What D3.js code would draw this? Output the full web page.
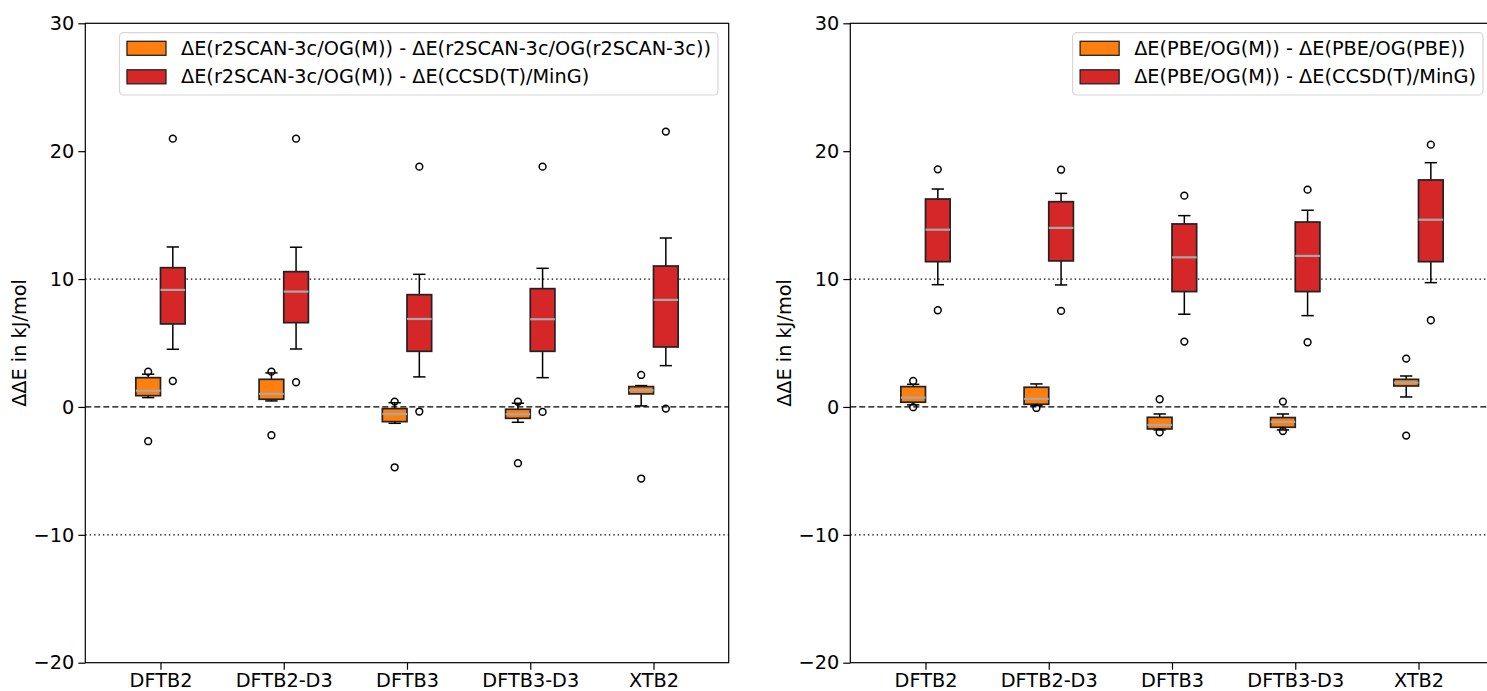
<!DOCTYPE html>
<html>
<head>
<meta charset="utf-8">
<script src="https://cdn.jsdelivr.net/npm/d3@7/dist/d3.min.js"></script>
<style>
  html, body { margin: 0; padding: 0; background: #fff; overflow: hidden; }
  svg { display: block; font-family: "DejaVu Sans", sans-serif; }
</style>
</head>
<body>
<svg id="chart" width="1487" height="691"></svg>
<script>
// Methods on the x axis
const categories = ["DFTB2", "DFTB2-D3", "DFTB3", "DFTB3-D3", "XTB2"];
const yTicks = [-20, -10, 0, 10, 20, 30];

// Box statistics per method: [lower whisker, Q1, median, Q3, upper whisker]
// Left panel: r2SCAN-3c single points
const r2scanVsOwnOpt = [
  [0.73, 0.88, 1.27, 2.29, 2.56],
  [0.47, 0.60, 1.02, 2.16, 2.66],
  [-1.28, -1.15, -0.55, -0.13, 0.33],
  [-1.20, -0.89, -0.57, -0.18, 0.29],
  [0.08, 1.02, 1.30, 1.59, 1.67]
];
const r2scanVsOwnOptFliers = [[2.76, -2.68], [2.76, -2.21], [0.42, -4.72], [0.41, -4.40], [2.50, -5.60]];

const r2scanVsCCSD = [
  [4.51, 6.49, 9.15, 10.89, 12.51],
  [4.53, 6.59, 9.02, 10.58, 12.49],
  [2.35, 4.35, 6.88, 8.78, 10.37],
  [2.29, 4.35, 6.86, 9.25, 10.84],
  [3.23, 4.69, 8.37, 11.02, 13.21]
];
const r2scanVsCCSDFliers = [[20.98, 2.03], [20.98, 1.93], [18.79, -0.36], [18.79, -0.39], [21.53, -0.13]];

// Right panel: PBE single points
const pbeVsOwnOpt = [
  [0.16, 0.37, 0.73, 1.59, 1.77],
  [0.10, 0.21, 0.63, 1.54, 1.80],
  [-1.80, -1.72, -1.41, -0.81, -0.55],
  [-1.80, -1.59, -1.17, -0.83, -0.55],
  [0.78, 1.64, 1.90, 2.16, 2.42]
];
const pbeVsOwnOptFliers = [[2.03, -0.02], [-0.08], [0.60, -1.98], [0.42, -1.88], [3.78, -2.24]];

const pbeVsCCSD = [
  [9.56, 11.36, 13.86, 16.26, 17.04],
  [9.54, 11.42, 14.00, 16.05, 16.70],
  [7.25, 9.02, 11.70, 14.31, 14.96],
  [7.14, 9.02, 11.81, 14.46, 15.38],
  [9.72, 11.36, 14.64, 17.75, 19.10]
];
const pbeVsCCSDFliers = [[18.58, 7.56], [18.55, 7.51], [16.52, 5.11], [16.99, 5.06], [20.51, 6.78]];

const legendLeft = [
  "ΔE(r2SCAN-3c/OG(M)) - ΔE(r2SCAN-3c/OG(r2SCAN-3c))",
  "ΔE(r2SCAN-3c/OG(M)) - ΔE(CCSD(T)/MinG)"
];
const legendRight = [
  "ΔE(PBE/OG(M)) - ΔE(PBE/OG(PBE))",
  "ΔE(PBE/OG(M)) - ΔE(CCSD(T)/MinG)"
];
const yLabel = "ΔΔE in kJ/mol";

const colorOrange = "#ff7f0e";
const colorRed = "#d62728";

const svg = d3.select("#chart");
const FONT = 19.3;
const plotTop = 23.3, plotBottom = 662.7, plotW = 643.4;

const y = d3.scaleLinear().domain([-20, 30]).range([plotBottom, plotTop]);
const x = d3.scaleLinear().domain([0.39, 5.61]).range([0, plotW]);
const offset = 0.1, boxW = 0.2;

function drawPanel(left, series, legendTexts) {
  const g = svg.append("g").attr("transform", `translate(${left},0)`);

  // reference lines
  [[10, "1.4,3"], [-10, "1.4,3"], [0, "6,3"]].forEach(([v, dash]) => {
    g.append("line")
      .attr("x1", 0).attr("x2", plotW)
      .attr("y1", y(v)).attr("y2", y(v))
      .attr("stroke", "#000").attr("stroke-width", 1.3)
      .attr("stroke-dasharray", dash);
  });

  series.forEach(s => {
    s.stats.forEach((st, i) => {
      const cx = x(i + 1 + s.shift);
      const hw = (x(boxW) - x(0)) / 2;
      const [lo, q1, med, q3, hi] = st;
      const bg = g.append("g");
      // whiskers
      bg.append("line").attr("x1", cx).attr("x2", cx).attr("y1", y(q1)).attr("y2", y(lo))
        .attr("stroke", "#000").attr("stroke-width", 1.5);
      bg.append("line").attr("x1", cx).attr("x2", cx).attr("y1", y(q3)).attr("y2", y(hi))
        .attr("stroke", "#000").attr("stroke-width", 1.5);
      // caps
      [lo, hi].forEach(v => {
        bg.append("line").attr("x1", cx - hw / 2).attr("x2", cx + hw / 2)
          .attr("y1", y(v)).attr("y2", y(v))
          .attr("stroke", "#000").attr("stroke-width", 1.5);
      });
      // box
      bg.append("rect")
        .attr("x", cx - hw).attr("width", 2 * hw)
        .attr("y", y(q3)).attr("height", y(q1) - y(q3))
        .attr("fill", s.color).attr("stroke", "#222").attr("stroke-width", 1.7);
      // median
      bg.append("line").attr("x1", cx - hw).attr("x2", cx + hw)
        .attr("y1", y(med)).attr("y2", y(med))
        .attr("stroke", "#a8a8a8").attr("stroke-width", 2.2);
      // outliers
      s.fliers[i].forEach(v => {
        bg.append("circle").attr("cx", cx).attr("cy", y(v)).attr("r", 3.4)
          .attr("fill", "none").attr("stroke", "#000").attr("stroke-width", 1.5);
      });
    });
  });

  // y axis
  const yAxis = g.append("g").call(d3.axisLeft(y).tickValues(yTicks).tickSize(7).tickPadding(4)
    .tickFormat(d => d < 0 ? "\u2212" + Math.abs(d) : String(d)));
  yAxis.select(".domain").remove();
  yAxis.selectAll("line").attr("stroke", "#000").attr("stroke-width", 1.2);
  yAxis.selectAll("text").attr("font-size", FONT).attr("fill", "#000")
    .attr("font-family", "DejaVu Sans, sans-serif");

  // x axis
  const xAxis = g.append("g").attr("transform", `translate(0,${plotBottom})`)
    .call(d3.axisBottom(x).tickValues(categories.map((c, i) => i + 1)).tickSize(7).tickPadding(4)
      .tickFormat((d, i) => categories[i]));
  xAxis.select(".domain").remove();
  xAxis.selectAll("line").attr("stroke", "#000").attr("stroke-width", 1.2);
  xAxis.selectAll("text").attr("font-size", FONT).attr("fill", "#000")
    .attr("font-family", "DejaVu Sans, sans-serif");

  // frame
  g.append("rect").attr("x", 0).attr("y", plotTop).attr("width", plotW).attr("height", plotBottom - plotTop)
    .attr("fill", "none").attr("stroke", "#000").attr("stroke-width", 1.2);

  // y label
  g.append("text")
    .attr("transform", `translate(${-65},${(plotTop + plotBottom) / 2}) rotate(-90)`)
    .attr("text-anchor", "middle").attr("dominant-baseline", "middle")
    .attr("font-size", FONT).text(yLabel);

  // legend
  const lg = g.append("g");
  const frame = lg.append("rect").attr("rx", 4).attr("ry", 4)
    .attr("fill", "#fff").attr("fill-opacity", 0.8)
    .attr("stroke", "#d6d6d6").attr("stroke-width", 1.2);
  const texts = [];
  legendTexts.forEach((t, i) => {
    const rowY = 48.3 + i * 28.5;
    lg.append("rect").attr("x", 7.5).attr("y", rowY - 7).attr("width", 39).attr("height", 14)
      .attr("fill", series[i].color).attr("stroke", "#222").attr("stroke-width", 1.3);
    texts.push(lg.append("text").attr("x", 61.5).attr("y", rowY)
      .attr("dominant-baseline", "central").attr("font-size", FONT).text(t));
  });
  const maxW = d3.max(texts, t => t.node().getComputedTextLength());
  const legW = 61.5 + maxW + 7;
  frame.attr("x", 0).attr("y", 32.7).attr("width", legW).attr("height", 62.3);
  lg.attr("transform", `translate(${plotW - 10.7 - legW},0)`);
}

drawPanel(85.3, [
  { stats: r2scanVsOwnOpt, fliers: r2scanVsOwnOptFliers, color: colorOrange, shift: -offset },
  { stats: r2scanVsCCSD, fliers: r2scanVsCCSDFliers, color: colorRed, shift: offset }
], legendLeft);

drawPanel(850.3, [
  { stats: pbeVsOwnOpt, fliers: pbeVsOwnOptFliers, color: colorOrange, shift: -offset },
  { stats: pbeVsCCSD, fliers: pbeVsCCSDFliers, color: colorRed, shift: offset }
], legendRight);
</script>
</body>
</html>
